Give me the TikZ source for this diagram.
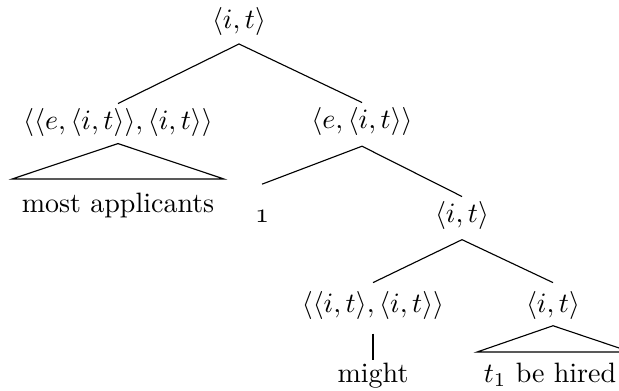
\documentclass[tikz,border=0pt]{standalone}
\begin{document}
\begin{tikzpicture}[x=0.357pt,y=-0.357pt,
  lbl/.style={inner sep=0pt},
  txt/.style={inner sep=0pt,anchor=base},
  edge/.style={line width=0.4pt}]
\useasboundingbox (0,0) rectangle (619,390);
% nodes
\node[lbl] (n0) at (239,21) {$\langle i,t\rangle$};
\node[lbl] (n1) at (118,122) {$\langle\langle e,\langle i,t\rangle\rangle,\langle i,t\rangle\rangle$};
\node[lbl] (n2) at (362,121) {$\langle e,\langle i,t\rangle\rangle$};
\node[txt] (n1t) at (118,212) {most applicants};
\node[txt] (n3) at (262,222) {$\mathnormal{1}$};
\node[lbl] (n4) at (462,215) {$\langle i,t\rangle$};
\node[lbl] (n5) at (373,305) {$\langle\langle i,t\rangle,\langle i,t\rangle\rangle$};
\node[lbl] (n6) at (553,305) {$\langle i,t\rangle$};
\node[txt] (n5t) at (373,382) {might};
\node[txt] (n6t) at (550,382) {$t_1$ be hired};
% edges
\draw[edge] ([yshift=-3pt]n0.south) -- ([yshift=1.4pt]n1.north);
\draw[edge] ([yshift=-3pt]n0.south) -- ([yshift=1.4pt]n2.north);
\draw[edge] ([yshift=-3.8pt]n2.south) -- ([yshift=9pt]n3.north);
\draw[edge] ([yshift=-3.8pt]n2.south) -- ([yshift=1.4pt]n4.north);
\draw[edge] ([yshift=-3.6pt]n4.south) -- ([yshift=2.8pt]n5.north);
\draw[edge] ([yshift=-3.6pt]n4.south) -- ([yshift=2.8pt]n6.north);
\draw[edge] ([yshift=-5pt]n5.south) -- ([yshift=0.8pt]n5t.north);
% triangles
\draw[edge] ([yshift=-2.5pt]n1.south) -- ([shift={(-106,-33)}]n1t.base) -- ([shift={(106,-33)}]n1t.base) -- cycle;
\draw[edge] ([yshift=-2.2pt]n6.south) -- ([shift={(-76,-30)}]n6t.base -| n6.south) -- ([shift={(78,-30)}]n6t.base -| n6.south) -- cycle;
\end{tikzpicture}
\end{document}
